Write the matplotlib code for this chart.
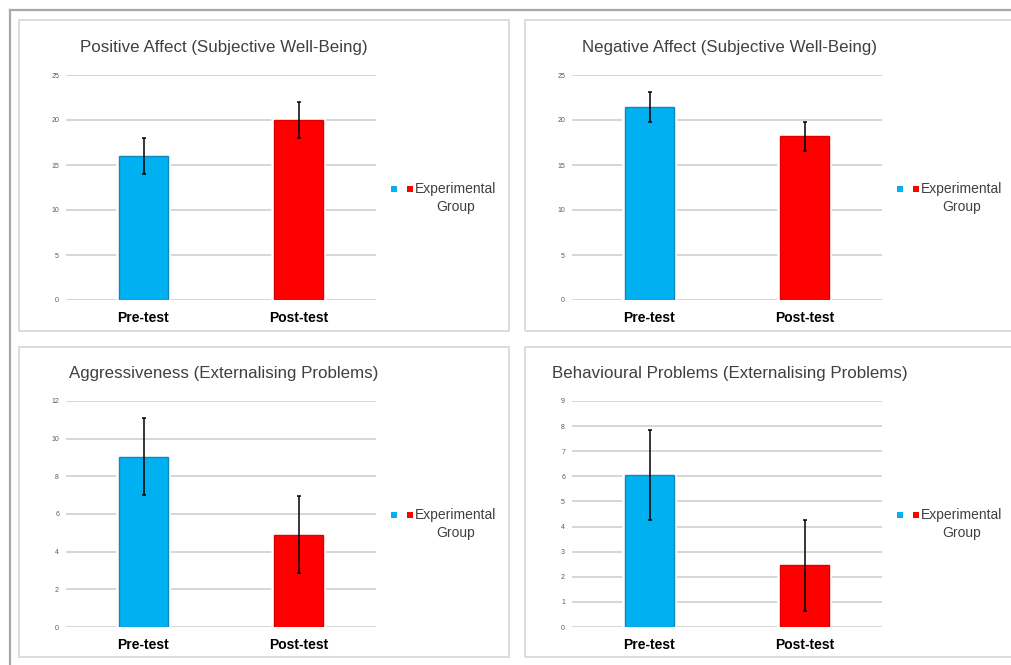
import numpy as np
import matplotlib
matplotlib.use('Agg')
import matplotlib.pyplot as plt
from matplotlib.patches import Rectangle
from matplotlib.lines import Line2D

plt.rcParams['font.family'] = ['Liberation Sans', 'DejaVu Sans']

categories = ['Pre-test', 'Post-test']
legend_label = 'Experimental\nGroup'

titles = ['Positive Affect (Subjective Well-Being)',
          'Negative Affect (Subjective Well-Being)',
          'Aggressiveness (Externalising Problems)',
          'Behavioural Problems (Externalising Problems)']

positive_mean = [16.05, 20.0]
positive_err = [2.0, 2.0]
negative_mean = [21.45, 18.2]
negative_err = [1.65, 1.6]
aggress_mean = [9.05, 4.9]
aggress_err = [2.05, 2.05]
behav_mean = [6.05, 2.45]
behav_err = [1.8, 1.8]

y_max = [25, 25, 12, 9]
y_step = [5, 5, 2, 1]

W, H = 1011, 665
BLUE, RED = '#00B0F0', '#FF0000'
BLUE_EDGE, RED_EDGE = '#1088bb', '#dd0000'

fig = plt.figure(figsize=(W / 100, H / 100), dpi=100)


def fx(x):
    return x / W


def fy(y):
    return 1 - y / H


# outer frame (top + left visible)
fig.add_artist(Line2D([fx(10), fx(W)], [fy(10), fy(10)], color='#a8a8a8', lw=1.6))
fig.add_artist(Line2D([fx(10), fx(10)], [fy(10), fy(H)], color='#a8a8a8', lw=1.6))

# panel boxes: (left, top, right, bottom) in pixels
panels = [(19, 20, 509, 331), (525, 20, 1016, 331),
          (19, 347, 509, 657), (525, 347, 1016, 657)]
for l, t, r, b in panels:
    fig.add_artist(Rectangle((fx(l), fy(b)), fx(r - l), (b - t) / H,
                             fill=False, edgecolor='#d6d6d6', lw=1.2))

# axes areas: (left, top, right, bottom) in pixels
areas = [(66, 75, 376, 300), (572, 75, 882, 300),
         (66, 401, 376, 627), (572, 401, 882, 627)]
means = [positive_mean, negative_mean, aggress_mean, behav_mean]
errs = [positive_err, negative_err, aggress_err, behav_err]

x = np.arange(len(categories))
for i, (l, t, r, b) in enumerate(areas):
    ax = fig.add_axes([fx(l), fy(b), fx(r - l), (b - t) / H])
    ax.set_xlim(-0.5, 1.5)
    ax.set_ylim(0, y_max[i])
    ticks = np.arange(0, y_max[i] + 0.01, y_step[i])
    for tk in ticks:
        ax.axhline(tk, color='#d6d6d6', lw=1.4, zorder=0)
    # white halo so gridlines stop short of the bars
    ax.bar(x, means[i], width=0.31, color='none', edgecolor='white', lw=4, zorder=1)
    ax.bar(x, means[i], width=0.31, color=[BLUE, RED],
           edgecolor=[BLUE_EDGE, RED_EDGE], lw=1, zorder=2)
    ax.errorbar(x, means[i], yerr=errs[i], fmt='none', ecolor='black',
                elinewidth=1.1, capsize=1.6, capthick=1.1, zorder=3)
    ax.set_yticks(ticks)
    ax.set_yticklabels([str(int(tk)) for tk in ticks], fontsize=5, color='#595959')
    ax.set_xticks(x)
    ax.set_xticklabels(categories, fontsize=10, fontweight='bold', color='black')
    ax.tick_params(axis='both', length=0)
    ax.tick_params(axis='y', pad=5)
    ax.tick_params(axis='x', pad=8)
    for s in ax.spines.values():
        s.set_visible(False)
    ax.set_facecolor('none')
    ax.set_title(titles[i], fontsize=12.2, color='#404040', pad=16.5, x=0.508)

    # legend drawn by hand (two swatches + centred label)
    lx, ly = l + 325, t + 114
    fig.add_artist(Rectangle((fx(lx), fy(ly + 3)), fx(6), 6 / H,
                             facecolor=BLUE, edgecolor='none'))
    fig.add_artist(Rectangle((fx(lx + 16), fy(ly + 3)), fx(6), 6 / H,
                             facecolor=RED, edgecolor='none'))
    fig.text(fx(lx + 65), fy(ly + 9), legend_label, fontsize=10, color='#404040',
             ha='center', va='center', linespacing=1.3)

fig.savefig('out.png', dpi=100, facecolor='white')
